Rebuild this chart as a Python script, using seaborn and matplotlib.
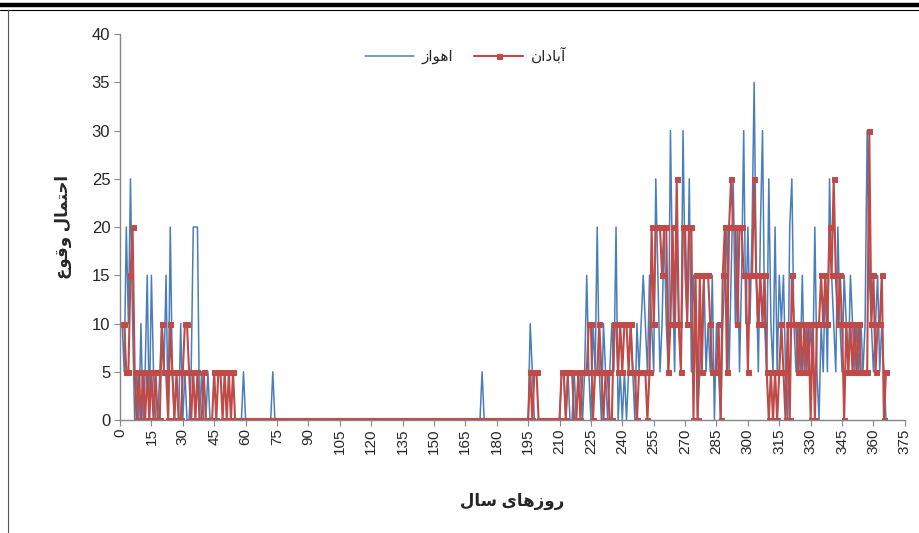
import numpy as np
import pandas as pd
import matplotlib
matplotlib.use("Agg")
import matplotlib.pyplot as plt
from matplotlib.lines import Line2D
import seaborn as sns

# daily probability of occurrence (%), day 1 .. 366 (rows of 10 days)
ahvaz = [
    10, 5, 20, 10, 25, 10, 0, 5, 0, 10,
    0, 5, 15, 0, 15, 5, 0, 0, 5, 10,
    5, 15, 0, 20, 5, 0, 0, 0, 10, 0,
    5, 0, 0, 5, 20, 20, 20, 0, 5, 0,
    0, 5, 0, 0, 0, 0, 0, 0, 0, 0,
    0, 0, 0, 0, 0, 0, 0, 0, 5, 0,
    0, 0, 0, 0, 0, 0, 0, 0, 0, 0,
    0, 0, 5, 0, 0, 0, 0, 0, 0, 0,
    0, 0, 0, 0, 0, 0, 0, 0, 0, 0,
    0, 0, 0, 0, 0, 0, 0, 0, 0, 0,
    0, 0, 0, 0, 0, 0, 0, 0, 0, 0,
    0, 0, 0, 0, 0, 0, 0, 0, 0, 0,
    0, 0, 0, 0, 0, 0, 0, 0, 0, 0,
    0, 0, 0, 0, 0, 0, 0, 0, 0, 0,
    0, 0, 0, 0, 0, 0, 0, 0, 0, 0,
    0, 0, 0, 0, 0, 0, 0, 0, 0, 0,
    0, 0, 0, 0, 0, 0, 0, 0, 0, 0,
    0, 0, 5, 0, 0, 0, 0, 0, 0, 0,
    0, 0, 0, 0, 0, 0, 0, 0, 0, 0,
    0, 0, 0, 0, 0, 10, 5, 0, 0, 0,
    0, 0, 0, 0, 0, 0, 0, 0, 0, 0,
    5, 5, 0, 5, 0, 0, 5, 0, 5, 5,
    0, 5, 15, 5, 0, 10, 5, 20, 5, 0,
    10, 5, 0, 5, 10, 5, 20, 0, 5, 0,
    5, 0, 5, 10, 5, 0, 10, 5, 10, 15,
    10, 5, 15, 10, 5, 25, 15, 5, 10, 20,
    10, 5, 30, 15, 5, 20, 10, 5, 30, 15,
    10, 25, 5, 15, 10, 0, 5, 10, 15, 5,
    10, 5, 15, 0, 10, 5, 0, 10, 15, 20,
    5, 15, 25, 10, 20, 5, 15, 30, 10, 20,
    10, 20, 35, 15, 5, 20, 30, 10, 5, 25,
    10, 5, 20, 5, 15, 10, 15, 5, 0, 20,
    25, 10, 5, 10, 5, 15, 5, 10, 5, 10,
    5, 20, 5, 0, 10, 5, 15, 5, 25, 15,
    10, 5, 20, 10, 5, 15, 10, 5, 15, 10,
    5, 10, 5, 10, 5, 10, 30, 15, 10, 5,
    10, 15, 5, 10, 5, 0,
]
abadan = [
    10, 10, 5, 5, 15, 20, 5, 0, 5, 0,
    5, 0, 5, 0, 5, 0, 5, 0, 0, 10,
    5, 5, 0, 10, 5, 0, 5, 0, 0, 5,
    10, 10, 5, 0, 5, 0, 5, 0, 0, 5,
    0, 0, 0, 0, 5, 0, 5, 5, 0, 5,
    0, 5, 0, 5, 0, 0, 0, 0, 0, 0,
    0, 0, 0, 0, 0, 0, 0, 0, 0, 0,
    0, 0, 0, 0, 0, 0, 0, 0, 0, 0,
    0, 0, 0, 0, 0, 0, 0, 0, 0, 0,
    0, 0, 0, 0, 0, 0, 0, 0, 0, 0,
    0, 0, 0, 0, 0, 0, 0, 0, 0, 0,
    0, 0, 0, 0, 0, 0, 0, 0, 0, 0,
    0, 0, 0, 0, 0, 0, 0, 0, 0, 0,
    0, 0, 0, 0, 0, 0, 0, 0, 0, 0,
    0, 0, 0, 0, 0, 0, 0, 0, 0, 0,
    0, 0, 0, 0, 0, 0, 0, 0, 0, 0,
    0, 0, 0, 0, 0, 0, 0, 0, 0, 0,
    0, 0, 0, 0, 0, 0, 0, 0, 0, 0,
    0, 0, 0, 0, 0, 0, 0, 0, 0, 0,
    0, 0, 0, 0, 0, 5, 0, 5, 5, 0,
    0, 0, 0, 0, 0, 0, 0, 0, 0, 0,
    5, 5, 0, 5, 5, 5, 0, 0, 5, 0,
    5, 5, 5, 10, 10, 0, 5, 5, 10, 5,
    0, 5, 5, 0, 0, 10, 10, 5, 10, 5,
    10, 10, 5, 10, 5, 5, 0, 5, 5, 5,
    5, 0, 5, 20, 10, 20, 20, 20, 15, 20,
    20, 5, 10, 20, 10, 25, 10, 5, 20, 20,
    10, 20, 20, 0, 15, 0, 15, 5, 15, 15,
    15, 10, 5, 5, 5, 10, 0, 15, 20, 5,
    20, 25, 20, 20, 10, 20, 20, 15, 15, 5,
    15, 15, 25, 15, 10, 15, 10, 15, 5, 0,
    5, 0, 5, 0, 5, 10, 5, 0, 10, 0,
    15, 10, 10, 5, 10, 5, 10, 5, 10, 0,
    10, 0, 10, 10, 15, 10, 15, 10, 20, 15,
    25, 15, 10, 15, 10, 0, 10, 5, 10, 5,
    10, 5, 10, 5, 5, 5, 5, 30, 10, 15,
    5, 10, 10, 15, 0, 5,
]
days = list(range(1, len(ahvaz) + 1))

label_ahvaz = "اهواز"
label_abadan = "آبادان"
xlabel = "روزهای سال"
ylabel = "احتمال وقوع"

# arabic shaping by hand (matplotlib has no shaping / bidi)
FORMS = {
    "ا": ("\ufe8d", "\ufe8e"), "آ": ("\ufe81", "\ufe82"), "د": ("\ufea9", "\ufeaa"),
    "ر": ("\ufead", "\ufeae"), "ز": ("\ufeaf", "\ufeb0"), "و": ("\ufeed", "\ufeee"),
    "ب": ("\ufe8f", "\ufe90", "\ufe91", "\ufe92"), "ت": ("\ufe95", "\ufe96", "\ufe97", "\ufe98"),
    "ح": ("\ufea1", "\ufea2", "\ufea3", "\ufea4"), "س": ("\ufeb1", "\ufeb2", "\ufeb3", "\ufeb4"),
    "ع": ("\ufec9", "\ufeca", "\ufecb", "\ufecc"), "ق": ("\ufed5", "\ufed6", "\ufed7", "\ufed8"),
    "ل": ("\ufedd", "\ufede", "\ufedf", "\ufee0"), "م": ("\ufee1", "\ufee2", "\ufee3", "\ufee4"),
    "ن": ("\ufee5", "\ufee6", "\ufee7", "\ufee8"), "ه": ("\ufee9", "\ufeea", "\ufeeb", "\ufeec"),
    "ی": ("\ufbfc", "\ufbfd", "\ufbfe", "\ufbff"),
}


def shape(text):
    out = []
    for i, ch in enumerate(text):
        if ch not in FORMS:
            out.append(ch)
            continue
        prev = text[i - 1] if i > 0 else ""
        nxt = text[i + 1] if i + 1 < len(text) else ""
        join_prev = prev in FORMS and len(FORMS[prev]) == 4
        join_next = len(FORMS[ch]) == 4 and nxt in FORMS
        f = FORMS[ch]
        if join_prev and join_next:
            out.append(f[3])
        elif join_prev:
            out.append(f[1])
        elif join_next:
            out.append(f[2])
        else:
            out.append(f[0])
    return "".join(out)[::-1]


sns.set_style("white")
plt.rcParams["font.family"] = ["Liberation Sans", "DejaVu Sans"]

blue = "#4A7EBB"
red = "#BE4B48"
grey = "#868686"

fig = plt.figure(figsize=(9.19, 5.33), dpi=100)
ax = fig.add_axes([0.1306, 0.212, 0.854, 0.724])

sns.lineplot(x=days, y=ahvaz, ax=ax, color=blue, linewidth=1.1, label=shape(label_ahvaz))
sns.lineplot(x=days, y=abadan, ax=ax, color=red, linewidth=1.5, marker="s",
             markersize=3.6, markeredgecolor=red, markerfacecolor=red, label=shape(label_abadan))

ax.set_xlim(0, 375)
ax.set_ylim(0, 40)
ax.set_xticks(np.arange(0, 376, 15))
ax.set_yticks(np.arange(0, 41, 5))
ax.tick_params(axis="x", labelrotation=90, labelsize=11, length=4, color=grey, direction="out", bottom=True, pad=2)
ax.tick_params(axis="y", labelsize=12, length=4, color=grey, direction="out", left=True, pad=3)
for side in ["top", "right"]:
    ax.spines[side].set_visible(False)
for side in ["left", "bottom"]:
    ax.spines[side].set_color(grey)
    ax.spines[side].set_linewidth(1)

ax.set_xlabel(shape(xlabel), fontsize=12, fontweight="bold", labelpad=28)
ax.set_ylabel(shape(ylabel), fontsize=12, fontweight="bold", labelpad=14)

ax.legend(loc="upper center", bbox_to_anchor=(0.44, 1.0), ncol=2, frameon=False,
          fontsize=11, handlelength=3.2, columnspacing=1.4, handletextpad=0.5)

# page frame lines
fig.add_artist(Line2D([0, 1], [0.991, 0.991], color="black", linewidth=3.2, transform=fig.transFigure))
fig.add_artist(Line2D([0, 1], [0.981, 0.981], color="black", linewidth=0.8, transform=fig.transFigure))
fig.add_artist(Line2D([0.009, 0.009], [0, 0.981], color="#555555", linewidth=0.8, transform=fig.transFigure))

fig.savefig("out.png", dpi=100)
